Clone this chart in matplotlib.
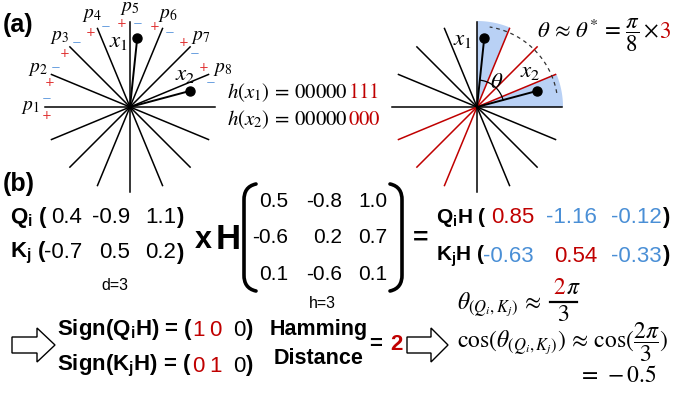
import numpy as np
import matplotlib.pyplot as plt
from matplotlib.path import Path
from matplotlib.patches import PathPatch

plt.rcParams['font.family'] = ['Liberation Sans', 'DejaVu Sans']
plt.rcParams['mathtext.fontset'] = 'custom'
plt.rcParams['mathtext.rm'] = 'Liberation Sans'
plt.rcParams['mathtext.it'] = 'Liberation Sans:italic'
plt.rcParams['mathtext.bf'] = 'Liberation Sans:bold'

RED = '#c00000'
BLUE = '#4a8fd6'
LBLUE = '#6fa3e0'
WEDGE = '#b9d1f5'

# ---- data ----
n_planes = 8
plane_labels = ['$p_{%d}$' % (i + 1) for i in range(n_planes)]
x1_angle, x1_len = 84, 69
x2_angle, x2_len = 15, 62
red_planes = [1, 2, 3]          # hyperplanes between x1 and x2
h_x1 = ['00000', '111']
h_x2 = ['00000', '000']

Q = ['0.4', '-0.9', '1.1']
K = ['-0.7', '0.5', '0.2']
H = [['0.5', '-0.8', '1.0'],
     ['-0.6', '0.2', '0.7'],
     ['0.1', '-0.6', '0.1']]
QH = ['0.85', '-1.16', '-0.12']
KH = ['-0.63', '0.54', '-0.33']
sign_Q = ['1', '0', '0']
sign_K = ['0', '1', '0']
hamming = '2'

# ---- figure in pixel coords (y down) ----
fig = plt.figure(figsize=(6.76, 3.94), dpi=100)
ax = fig.add_axes([0, 0, 1, 1])
ax.set_xlim(0, 676)
ax.set_ylim(394, 0)
ax.axis('off')
renderer = fig.canvas.get_renderer()

R = 85
MF = 'stix'


def pt(cx, cy, r, a):
    a = np.deg2rad(a)
    return cx + r * np.cos(a), cy - r * np.sin(a)


def arc(cx, cy, r, a0, a1, n=60):
    t = np.deg2rad(np.linspace(a0, a1, n))
    return cx + r * np.cos(t), cy - r * np.sin(t)


def star(cx, cy, colors):
    for k in range(n_planes):
        a = k * 180 / n_planes
        x0, y0 = pt(cx, cy, R, a + 180)
        x1, y1 = pt(cx, cy, R, a)
        ax.plot([x0, x1], [y0, y1], color=colors[k], lw=1.1, zorder=2)


def vectors(cx, cy, labels_at):
    for (ang, ln), (lx, ly, s) in zip([(x1_angle, x1_len), (x2_angle, x2_len)], labels_at):
        ex, ey = pt(cx, cy, ln, ang)
        ax.plot([cx, ex], [cy, ey], color='black', lw=1.4, zorder=3)
        ax.plot(ex, ey, 'o', color='black', ms=6.5, zorder=4)
        ax.text(lx, ly, s, fontsize=16.5, math_fontfamily=MF, ha='center', va='center')


def chain(x, y, parts, **kw):
    for s, c in parts:
        t = ax.text(x, y, s, color=c, ha='left', va='baseline', **kw)
        x += t.get_window_extent(renderer).width
    return x


# ---- (a) left ----
c1 = (130, 107)
star(*c1, ['black'] * n_planes)
for i in range(n_planes):
    a = 180 - i * 180 / n_planes
    lx, ly = pt(*c1, 100, a)
    ax.text(lx, ly + 1, plane_labels[i], fontsize=14, math_fontfamily=MF, ha='center', va='center')
    px, py = pt(*c1, 84, a + 5.5)
    mx, my = pt(*c1, 84, a - 5.5)
    ax.text(px, py, '+', color='#e03030', fontsize=8.5, ha='center', va='center', family='DejaVu Sans')
    ax.text(mx, my, '\u2212', color=LBLUE, fontsize=8.5, ha='center', va='center', family='DejaVu Sans')
vectors(*c1, [(119, 40, '$x_1$'), (185, 73, '$x_2$')])

chain(227, 98, [(r'$h(x_1)\,=\,%s$' % h_x1[0], 'black'), ('$%s$' % h_x1[1], RED)],
      fontsize=15, math_fontfamily=MF)
chain(227, 125, [(r'$h(x_2)\,=\,%s$' % h_x2[0], 'black'), ('$%s$' % h_x2[1], RED)],
      fontsize=15, math_fontfamily=MF)

# ---- (a) right ----
c2 = (477, 107)
for a0, a1 in [(67.5, 90), (0, 22.5)]:
    xs, ys = arc(*c2, R + 1, a0, a1)
    ax.fill(np.r_[c2[0], xs], np.r_[c2[1], ys], color=WEDGE, lw=0, zorder=1)
star(*c2, [RED if k in red_planes else 'black' for k in range(n_planes)])
xs, ys = arc(*c2, 81, 10, 81)
ax.plot(xs, ys, color='#333333', lw=0.9, ls=(0, (3, 3)), zorder=2)
xs, ys = arc(*c2, 27, x2_angle, x1_angle)
ax.plot(xs, ys, color='black', lw=0.9, zorder=3)
ax.text(497, 81, r'$\theta$', fontsize=16.5, math_fontfamily=MF, ha='center', va='center')
vectors(*c2, [(463, 38, '$x_1$'), (530, 70, '$x_2$')])
chain(537, 38, [(r'$\theta\,\approx\,\theta^{*}\,=\,\dfrac{\pi}{8}\times$', 'black'), ('$3$', RED)],
      fontsize=16.5, math_fontfamily=MF)

ax.text(3, 25, '(a)', fontsize=18, fontweight='bold', va='center', ha='left')
ax.text(3, 184, '(b)', fontsize=18, fontweight='bold', va='center', ha='left')

# ---- (b) vectors ----
fs = 16
for y, name, vals in [(217, r'$\mathbf{Q}_\mathbf{i}$ (', Q), (253, r'$\mathbf{K}_\mathbf{j}$ (', K)]:
    ax.text(10, y, name, fontsize=fs, fontweight='bold', va='center', ha='left')
    for xr, v in zip([82, 130, 176], vals):
        ax.text(xr, y, v, fontsize=fs, va='center', ha='right')
    ax.text(176, y, ')', fontsize=fs, fontweight='bold', va='center', ha='left')
ax.text(115, 285, 'd=3', fontsize=11.5, ha='center', va='center')

ax.text(203, 240, 'x', fontsize=22, fontweight='bold', ha='center', va='center')
ax.text(228, 239, 'H', fontsize=25, fontweight='bold', ha='center', va='center')

# matrix brackets
for sgn, xe in [(1, 244), (-1, 402)]:
    verts = [(xe + 12 * sgn, 184), (xe + 3 * sgn, 186), (xe, 192), (xe, 200),
             (xe, 275), (xe, 283), (xe + 3 * sgn, 289), (xe + 12 * sgn, 291)]
    codes = [Path.MOVETO, Path.CURVE4, Path.CURVE4, Path.CURVE4,
             Path.LINETO, Path.CURVE4, Path.CURVE4, Path.CURVE4]
    ax.add_patch(PathPatch(Path(verts, codes), fill=False, lw=2.6, color='black', capstyle='round'))
for r, y in enumerate([201, 237, 274]):
    for c, xr in enumerate([288, 342, 387]):
        ax.text(xr, y, H[r][c], fontsize=15, ha='right', va='center')
ax.text(322, 304, 'h=3', fontsize=11.5, ha='center', va='center')
ax.text(421, 238, '=', fontsize=19, fontweight='bold', ha='center', va='center')

for y, name, vals in [(217, r'$\mathbf{Q}_\mathbf{i}$H (', QH), (256, r'$\mathbf{K}_\mathbf{j}$H (', KH)]:
    ax.text(436, y, name, fontsize=15, fontweight='bold', va='center', ha='left')
    for xr, v in zip([534, 597, 662], vals):
        ax.text(xr, y, v, fontsize=fs, va='center', ha='right',
                color=BLUE if v.startswith('-') else RED)
    ax.text(662, y, ')', fontsize=fs, fontweight='bold', va='center', ha='left')

# ---- sign + hamming ----
for y, name, bits in [(330, r'Sign($\mathbf{Q}_\mathbf{i}$H) = (', sign_Q), (366, r'Sign($\mathbf{K}_\mathbf{j}$H) = (', sign_K)]:
    ax.text(57, y, name, fontsize=fs, fontweight='bold', va='center', ha='left')
    for k, (xl, b) in enumerate(zip([192, 209, 233], bits)):
        ax.text(xl, y, b, fontsize=fs, va='center', ha='left',
                color=RED if sign_Q[k] != sign_K[k] else 'black')
    ax.text(245, y, ')', fontsize=fs, fontweight='bold', va='center', ha='left')

ax.text(319, 330, 'Hamming', fontsize=15.5, fontweight='bold', ha='center', va='center')
ax.text(319, 358, 'Distance', fontsize=15.5, fontweight='bold', ha='center', va='center')
ax.text(376, 345, '=', fontsize=16, fontweight='bold', ha='center', va='center')
ax.text(396, 345, hamming, fontsize=16, fontweight='bold', ha='center', va='center', color=RED)

for x0, xb, xt in [(12, 37, 55), (407, 431, 448)]:
    ax.fill([x0, xb, xb, xt, xb, xb, x0], [337, 337, 328, 345, 362, 353, 353],
            facecolor='white', edgecolor='black', lw=1)

# ---- angle formulas ----
chain(457, 309, [(r'$\theta_{(Q_i,K_j)}\,\approx$', 'black')], fontsize=17, math_fontfamily=MF)
chain(553, 294, [('$2$', RED), (r'$\pi$', 'black')], fontsize=17, math_fontfamily=MF)
ax.plot([550, 577], [302, 302], color='black', lw=1.6)
ax.text(563, 321, '$3$', fontsize=17, math_fontfamily=MF, ha='center', va='baseline')
chain(457, 348, [(r'$\cos(\theta_{(Q_i,K_j)})\,\approx\,\cos(\dfrac{2\pi}{3})$', 'black')],
      fontsize=17, math_fontfamily=MF)
chain(578, 382, [(r'$=\,-0.5$', 'black')], fontsize=17, math_fontfamily=MF)

fig.savefig('out.png', dpi=100)
